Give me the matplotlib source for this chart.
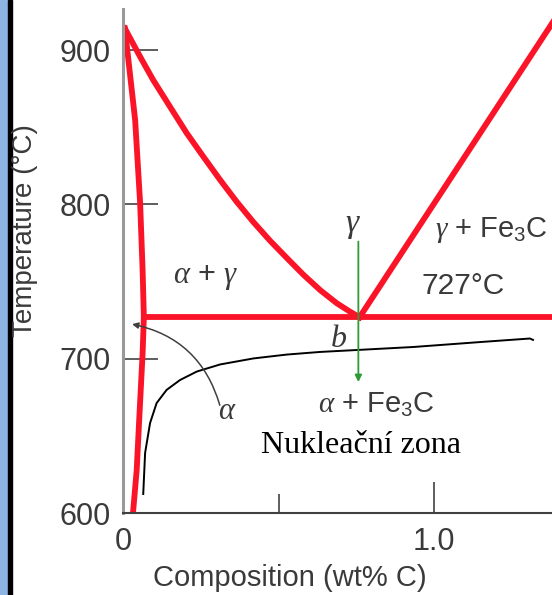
"""
Fe-Fe3C diagram detail around the eutectoid point, with the nucleation zone sketched in.
"""
import matplotlib

matplotlib.use("Agg")
import matplotlib.pyplot as plt
from matplotlib.patches import Rectangle

plt.rcParams["font.family"] = ["Liberation Sans", "DejaVu Sans"]
plt.rcParams["mathtext.fontset"] = "custom"
plt.rcParams["mathtext.rm"] = "Liberation Sans"
plt.rcParams["mathtext.it"] = "Liberation Serif:italic"
plt.rcParams["mathtext.bf"] = "Liberation Sans:bold"

# phase boundaries (wt% C, degC)
a3_comp = [0.006, 0.055, 0.097, 0.151, 0.205, 0.258, 0.312, 0.365, 0.418,
           0.472, 0.526, 0.579, 0.633, 0.687, 0.729, 0.76]
a3_temp = [914.0, 895.7, 880.6, 863.3, 846.1, 831.0, 815.9, 801.8, 788.8,
           776.6, 765.4, 754.6, 744.6, 736.0, 730.6, 727.0]

alpha_comp = [0.006, 0.039, 0.055, 0.063, 0.067]
alpha_temp = [914.0, 854.7, 801.0, 757.6, 727.0]

solvus_comp = [0.067, 0.063, 0.052, 0.044, 0.032]
solvus_temp = [727.0, 703.6, 660.4, 628.0, 600.0]

acm_comp = [0.76, 1.40]
acm_temp = [727, 924]

eutectoid_comp = [0.067, 1.40]
eutectoid_temp = [727, 727]

ferrite_comp = [0.001, 0.001]
ferrite_temp = [600, 626]

# hand-drawn nucleation zone boundary
nuc_comp = [0.065, 0.071, 0.087, 0.108, 0.140, 0.183, 0.237, 0.312, 0.419,
            0.526, 0.633, 0.755, 0.932, 1.147, 1.307, 1.317]
nuc_temp = [612.5, 639.1, 658.5, 671.4, 679.9, 686.3, 691.8, 696.4, 700.3,
            702.8, 704.5, 705.8, 707.7, 710.9, 713.2, 712.3]

# cooling path at the eutectoid composition
path_comp = 0.756
path_temp = [776, 685]

y_ticks = [600, 700, 800, 900]
x_ticks = [0, 1.0]
x_tick_labels = ["0", "1.0"]
x_minor = [0.5]

RED = "#fb1428"
GREY_TXT = "#3a3a3a"

fig = plt.figure(figsize=(5.52, 5.95), dpi=100)
ax = fig.add_axes([123 / 552, 81.7 / 595, 1 - 123 / 552, 504.3 / 595])
ax.set_xlim(0, 1.378)
ax.set_ylim(600, 926.6)

# slide frame on the left
fig.patches.append(Rectangle((0, 0), 8 / 552, 1, transform=fig.transFigure,
                             color="#8db4e2", zorder=0))
fig.patches.append(Rectangle((8 / 552, 0), 4 / 552, 1, transform=fig.transFigure,
                             color="black", zorder=0))

lw = 4.2
ax.plot(a3_comp, a3_temp, color=RED, lw=lw, solid_joinstyle="round")
ax.plot(alpha_comp, alpha_temp, color=RED, lw=lw, solid_joinstyle="round")
ax.plot(solvus_comp, solvus_temp, color=RED, lw=lw, solid_joinstyle="round")
ax.plot(acm_comp, acm_temp, color=RED, lw=lw)
ax.plot(eutectoid_comp, eutectoid_temp, color=RED, lw=lw)
ax.plot(ferrite_comp, ferrite_temp, color="#b00010", lw=1.6)

ax.plot(nuc_comp, nuc_temp, color="black", lw=1.4, solid_joinstyle="round")

ax.annotate("", xy=(path_comp, path_temp[1]), xytext=(path_comp, path_temp[0]),
            arrowprops=dict(arrowstyle="-|>", color="#2e9a35", lw=1.3,
                            mutation_scale=10, shrinkA=0, shrinkB=0))

# curved pointer from the alpha label to the ferrite boundary
ax.annotate("", xy=(0.029, 722.5), xytext=(0.311, 670.0),
            arrowprops=dict(arrowstyle="-|>", color="#404040", lw=1.1,
                            mutation_scale=9, shrinkA=0, shrinkB=0,
                            connectionstyle="arc3,rad=0.3"))

# labels
ax.text(0.739, 786.1, r"$\gamma$", fontsize=24, color=GREY_TXT, ha="center", va="center")
ax.text(1.002, 783.5, r"$\gamma$ + Fe$_3$C", fontsize=21, color=GREY_TXT, ha="left", va="center")
ax.text(0.960, 747.2, "727°C", fontsize=21.5, color=GREY_TXT, ha="left", va="center")
ax.text(0.266, 753.2, r"$\alpha$ + $\gamma$", fontsize=22, color=GREY_TXT, ha="center", va="center")
ax.text(0.691, 713.1, r"$b$", fontsize=23, color=GREY_TXT, ha="center", va="center")
ax.text(0.334, 666.4, r"$\alpha$", fontsize=22, color=GREY_TXT, ha="center", va="center")
ax.text(0.813, 670.1, r"$\alpha$ + Fe$_3$C", fontsize=21, color=GREY_TXT, ha="center", va="center")
ax.text(0.765, 644.2, "Nukleační zona", fontsize=23, color="black", ha="center",
        va="center", family="Liberation Serif")

# axes styling
for side in ("top", "right"):
    ax.spines[side].set_visible(False)
ax.spines["left"].set_color("#999999")
ax.spines["left"].set_linewidth(2.2)
ax.spines["bottom"].set_color("#404040")
ax.spines["bottom"].set_linewidth(1.5)

ax.set_yticks(y_ticks)
ax.set_xticks(x_ticks)
ax.set_xticklabels(x_tick_labels)
ax.set_xticks(x_minor, minor=True)
ax.tick_params(axis="y", direction="in", length=25, width=1.1, color="#333333",
               pad=9, labelsize=22, labelcolor=GREY_TXT)
ax.tick_params(axis="x", which="major", direction="in", length=22, width=1.1,
               color="#333333", pad=10, labelsize=22, labelcolor=GREY_TXT)
ax.tick_params(axis="x", which="minor", direction="in", length=14, width=1.1,
               color="#333333")

fig.text(25 / 552, 1 - 231 / 595, "Temperature (°C)", rotation=90, fontsize=20,
         color=GREY_TXT, ha="center", va="center")
fig.text(290 / 552, 1 - 578 / 595, "Composition (wt% C)", fontsize=21,
         color=GREY_TXT, ha="center", va="center")

fig.savefig("out.png", dpi=100)
